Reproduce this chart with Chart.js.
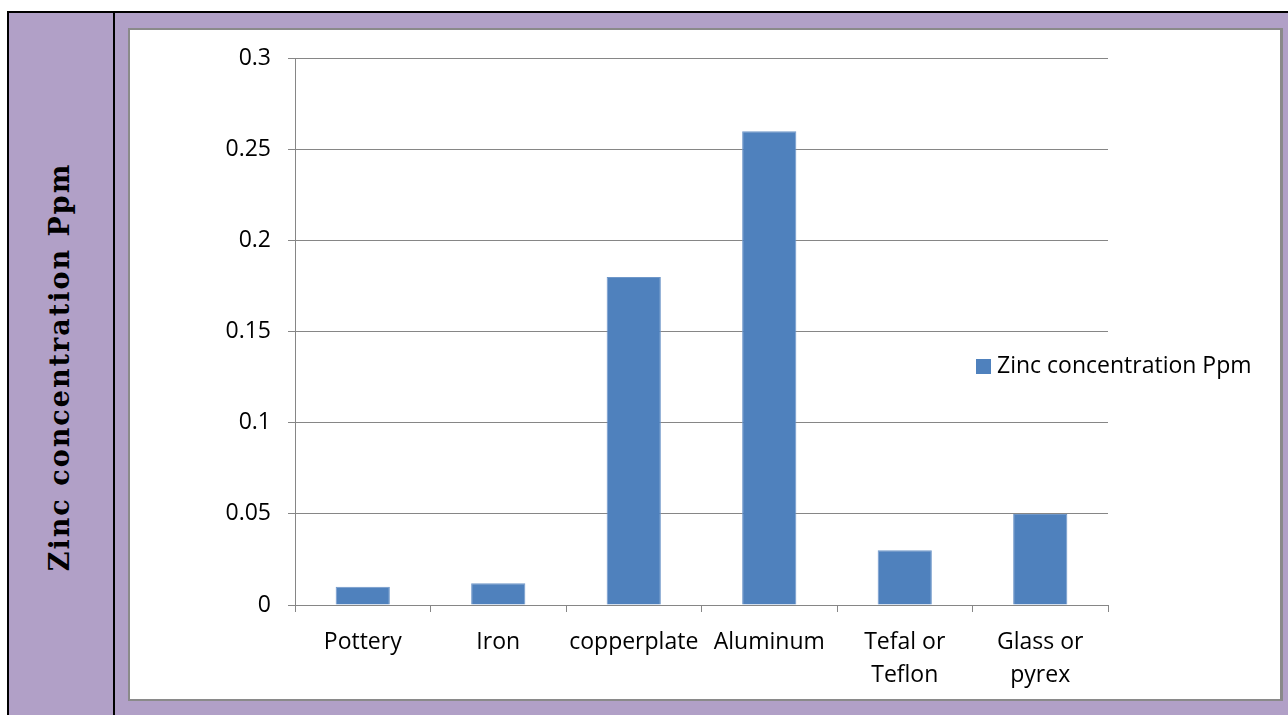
<!DOCTYPE html>
<html>
<head>
<meta charset="utf-8">
<script src="https://cdn.jsdelivr.net/npm/chart.js@4.4.1/dist/chart.umd.min.js"></script>
<style>
  body { margin: 0; width: 1288px; height: 715px; overflow: hidden; position: relative; background: #fff; }
  #cell { position: absolute; left: 7px; top: 11px; width: 1290px; height: 720px; background: #b1a0c7;
          border-top: 2px solid #000; border-left: 2px solid #000; }
  #divider { position: absolute; left: 113px; top: 11px; width: 2px; height: 704px; background: #000; }
  #title { position: absolute; left: 59px; top: 367px; transform: translate(-50%, -50%) rotate(-90deg);
           white-space: nowrap; font: bold 27px 'DejaVu Serif'; letter-spacing: 2px; color: #000; }
  #box { position: absolute; left: 128px; top: 28px; width: 1150px; height: 669px; background: #fff;
         border: 2px solid #8a8a8a; border-right-width: 3px; }
</style>
</head>
<body>
<div id="cell"></div>
<div id="divider"></div>
<div id="title">Zinc concentration Ppm</div>
<div id="box"><canvas id="myChart"></canvas></div>
<script>
    // data
    const categories = ['Pottery', 'Iron', 'copperplate', 'Aluminum', ['Tefal or', 'Teflon'], ['Glass or', 'pyrex']];
    const seriesName = 'Zinc concentration Ppm';
    const zincValues = [0.01, 0.012, 0.18, 0.26, 0.03, 0.05];
    const yTickLabels = ['0', '0.05', '0.1', '0.15', '0.2', '0.25', '0.3'];

    const gridColor = '#868686';
    const font = { family: 'Open Sans', size: 23, lineHeight: 1.43 };

    // legend drawn by hand, it sits over the plot like in the excel chart
    const sideLegend = {
      id: 'sideLegend',
      afterDraw(chart) {
        const c = chart.ctx;
        const ds = chart.data.datasets[0];
        const x = chart.chartArea.right - 132;
        const y = 336;
        c.save();
        c.fillStyle = ds.backgroundColor;
        c.fillRect(x, y - 7, 15, 15);
        c.fillStyle = '#000';
        c.font = font.size + 'px ' + font.family;
        c.textBaseline = 'middle';
        c.fillText(ds.label, x + 21, y);
        c.restore();
      }
    };

    const data = {
      labels: categories,
      datasets: [{
        label: seriesName,
        data: zincValues,
        backgroundColor: '#4f81bd',
        borderColor: '#6f97c9',
        borderWidth: 1,
        barPercentage: 0.4,
        categoryPercentage: 1
      }]
    };

    const config = {
      type: 'bar',
      data,
      plugins: [sideLegend],
      options: {
        responsive: true,
        maintainAspectRatio: false,
        animation: false,
        layout: { padding: { top: 28, right: 172, bottom: 0, left: 0 } },
        plugins: {
          legend: { display: false },
          tooltip: { enabled: false }
        },
        scales: {
          x: {
            grid: { drawOnChartArea: false, drawTicks: true, tickLength: 7, color: gridColor, offset: true },
            border: { color: gridColor, width: 1 },
            ticks: { color: '#000', font, padding: 14, maxRotation: 0, autoSkip: false },
            afterFit(scale) { scale.height = 94; }
          },
          y: {
            min: 0,
            max: 0.3,
            grid: { color: gridColor, tickLength: 7 },
            border: { color: gridColor, width: 1 },
            ticks: {
              stepSize: 0.05,
              color: '#000',
              font: { family: 'Open Sans', size: 23, lineHeight: 1 },
              padding: 17,
              callback: (value, index) => yTickLabels[index]
            },
            afterFit(scale) { scale.width = 165; }
          }
        }
      }
    };

    const ctx = document.getElementById('myChart');
    const myChart = new Chart(ctx, config);
</script>
</body>
</html>
